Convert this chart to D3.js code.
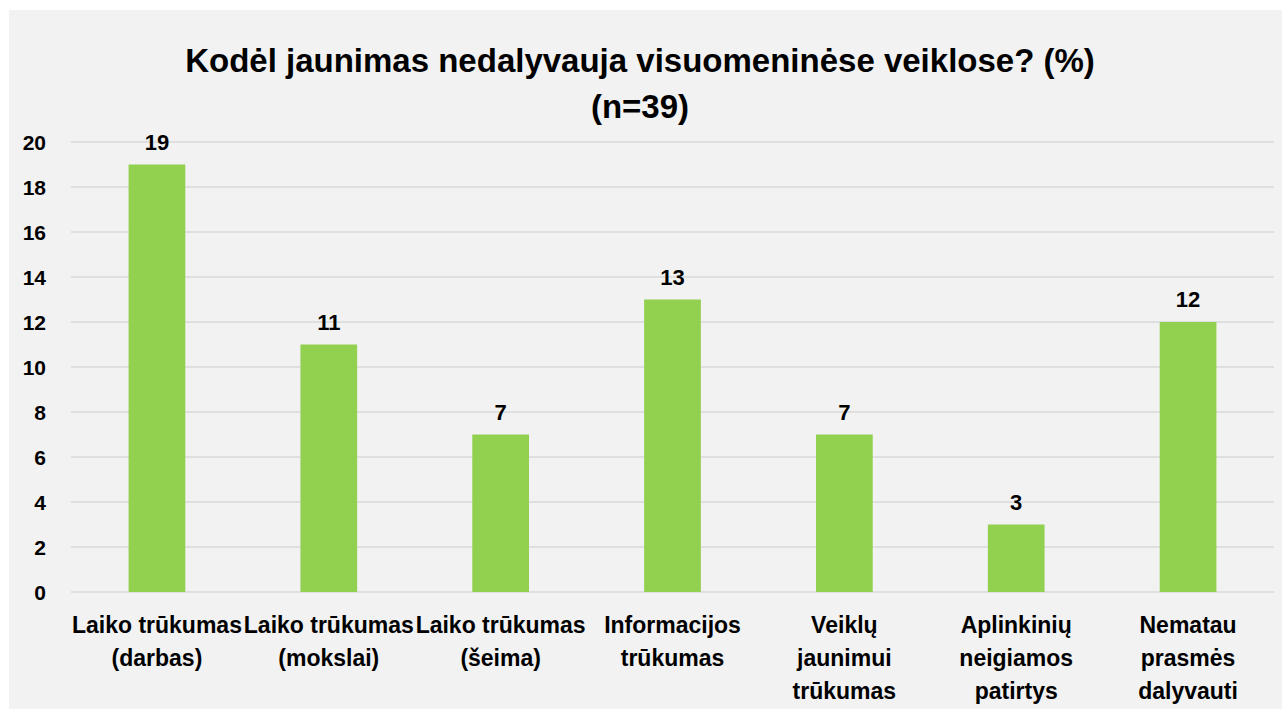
<!DOCTYPE html>
<html><head><meta charset="utf-8">
<script src="https://cdn.jsdelivr.net/npm/d3@7"></script>
<style>html,body{margin:0;padding:0;background:#fff;}svg{display:block;}</style>
</head><body>
<script>
const categories = ["Laiko trūkumas\n(darbas)", "Laiko trūkumas\n(mokslai)", "Laiko trūkumas\n(šeima)", "Informacijos\ntrūkumas", "Veiklų\njaunimui\ntrūkumas", "Aplinkinių\nneigiamos\npatirtys", "Nematau\nprasmės\ndalyvauti"];
const values = [19, 11, 7, 13, 7, 3, 12];
const yTicks = [0, 2, 4, 6, 8, 10, 12, 14, 16, 18, 20];
const titleLines = ["Kodėl jaunimas nedalyvauja visuomeninėse veiklose? (%)", "(n=39)"];

const W = 1282, H = 709;
const svg = d3.select("body").append("svg").attr("width", W).attr("height", H);
const font = "'Liberation Sans', Arial, sans-serif";

svg.append("rect").attr("x", 9).attr("y", 10).attr("width", 1273).attr("height", 699).attr("fill", "#f2f2f2");

const x = d3.scaleBand().domain(categories).range([71, 1274]).padding(0);
const y = d3.scaleLinear().domain([0, 20]).range([592, 142]);

// gridlines
svg.append("g").selectAll("line").data(yTicks).join("line")
  .attr("x1", 71).attr("x2", 1274)
  .attr("y1", d => y(d)).attr("y2", d => y(d))
  .attr("stroke", "#d9d9d9").attr("stroke-width", 1.5);

// y axis
const yAxis = d3.axisLeft(y).tickValues(yTicks).tickSize(0).tickPadding(0);
const gy = svg.append("g").attr("transform", "translate(46,0)").call(yAxis);
gy.select(".domain").remove();
gy.selectAll("text").attr("font-family", font).attr("font-weight", "bold").attr("font-size", 21).attr("fill", "#000").attr("dy", "0.35em");

// bars
const bw = x.step() * 0.33;
svg.append("g").selectAll("rect").data(values).join("rect")
  .attr("x", (d, i) => x(categories[i]) + x.bandwidth() / 2 - bw / 2)
  .attr("width", bw)
  .attr("y", d => y(d))
  .attr("height", d => y(0) - y(d))
  .attr("fill", "#92d050");

// value labels
svg.append("g").selectAll("text").data(values).join("text")
  .attr("x", (d, i) => x(categories[i]) + x.bandwidth() / 2)
  .attr("y", d => y(d) - 15)
  .attr("text-anchor", "middle")
  .attr("font-family", font).attr("font-weight", "bold").attr("font-size", 22).attr("fill", "#000")
  .text(d => d);

// x axis labels
const xAxis = d3.axisBottom(x).tickSize(0).tickFormat("");
const gx = svg.append("g").attr("transform", "translate(0,592)").call(xAxis);
gx.select(".domain").remove();
gx.selectAll(".tick").each(function(d) {
  const t = d3.select(this).append("text")
    .attr("text-anchor", "middle").attr("font-family", font).attr("font-weight", "bold")
    .attr("font-size", 23).attr("fill", "#000");
  d.split("\n").forEach((line, i) => {
    t.append("tspan").attr("x", 0).attr("y", 41 + i * 33).text(line);
  });
});

// title
svg.append("g").selectAll("text").data(titleLines).join("text")
  .attr("x", 640).attr("y", (d, i) => 72 + i * 46)
  .attr("text-anchor", "middle").attr("font-family", font).attr("font-weight", "bold")
  .attr("font-size", 33).attr("fill", "#000")
  .text(d => d);
</script>
</body></html>
